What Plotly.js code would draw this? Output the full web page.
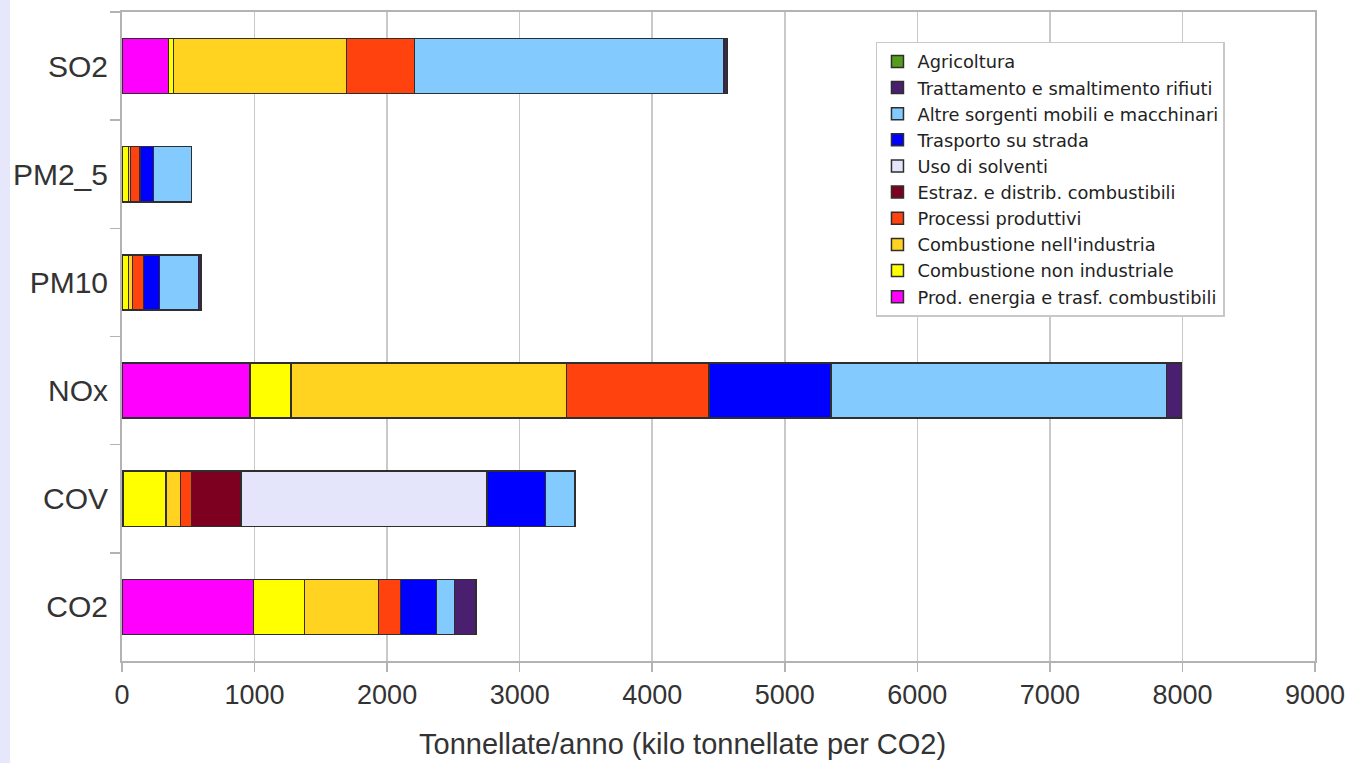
<!DOCTYPE html>
<html>
<head>
<meta charset="utf-8">
<script src="https://cdn.plot.ly/plotly-3.0.1.min.js"></script>
<style>
  html, body { margin: 0; padding: 0; background: #e6e7fb; }
  #chart { position: absolute; left: 10px; top: 0; width: 1342px; height: 763px; background: #ffffff; }
</style>
</head>
<body>
<div id="chart"></div>
<script>
// Categories (top to bottom)
const categories = ['SO2', 'PM2_5', 'PM10', 'NOx', 'COV', 'CO2'];

// Series values (tonnellate/anno; kilo tonnellate for CO2)
const prodEnergia   = [350, 0, 0, 965, 10, 992];
const combNonInd    = [37, 48, 48, 310, 322, 383];
const combInd       = [1305, 17, 33, 2080, 111, 561];
const processi      = [513, 71, 80, 1073, 83, 164];
const estraz        = [0, 0, 0, 0, 370, 0];
const solventi      = [0, 0, 0, 0, 1858, 0];
const trasporto     = [0, 101, 121, 919, 441, 272];
const altreSorgenti = [2338, 289, 295, 2531, 221, 136];
const trattamento   = [20, 0, 18, 113, 0, 163];
const agricoltura   = [0, 0, 0, 0, 0, 0];

const seriesNames = [
  'Prod. energia e trasf. combustibili',
  'Combustione non industriale',
  "Combustione nell'industria",
  'Processi produttivi',
  'Estraz. e distrib. combustibili',
  'Uso di solventi',
  'Trasporto su strada',
  'Altre sorgenti mobili e macchinari',
  'Trattamento e smaltimento rifiuti',
  'Agricoltura'
];
const seriesValues = [prodEnergia, combNonInd, combInd, processi, estraz, solventi, trasporto, altreSorgenti, trattamento, agricoltura];
const seriesColors = ['#ff00ff', '#ffff00', '#ffd320', '#ff420e', '#7e0021', '#e4e4fa', '#0000ff', '#83caff', '#4b1f6f', '#579d1c'];

const xTicks = [0, 1000, 2000, 3000, 4000, 5000, 6000, 7000, 8000, 9000];
const xTitle = 'Tonnellate/anno (kilo tonnellate per CO2)';

const FONT = '"Liberation Sans", Arial, sans-serif';

const traces = seriesNames.map((name, i) => ({
  type: 'bar',
  orientation: 'h',
  name: name,
  y: categories,
  x: seriesValues[i],
  marker: { color: seriesColors[i], line: { color: '#2e2e2e', width: 1.5 } },
  hoverinfo: 'x+name'
}));

const layout = {
  width: 1342,
  height: 763,
  margin: { l: 112, r: 37, t: 12, b: 102 },
  paper_bgcolor: '#ffffff',
  plot_bgcolor: '#ffffff',
  barmode: 'stack',
  bargap: 0.49,
  font: { family: FONT, color: '#333333' },
  xaxis: {
    range: [0, 9000],
    tickvals: xTicks,
    ticktext: xTicks.map(String),
    showgrid: true,
    gridcolor: '#c9c9c9',
    gridwidth: 1.5,
    zeroline: false,
    showline: true,
    linecolor: '#b3b3b3',
    linewidth: 2,
    mirror: true,
    ticks: 'outside',
    ticklen: 9,
    tickwidth: 1.5,
    tickcolor: '#b3b3b3',
    tickfont: { family: FONT, size: 27, color: '#333333' },
    automargin: false
  },
  yaxis: {
    type: 'category',
    autorange: 'reversed',
    showgrid: false,
    zeroline: false,
    showline: true,
    linecolor: '#b3b3b3',
    linewidth: 2,
    mirror: true,
    ticks: 'outside',
    tickson: 'boundaries',
    ticklen: 10,
    tickwidth: 1.5,
    tickcolor: '#b3b3b3',
    ticklabelstandoff: 6,
    tickfont: { family: FONT, size: 30, color: '#333333' },
    automargin: false
  },
  annotations: [{
    text: xTitle,
    xref: 'paper', yref: 'paper',
    x: 0.47, y: -0.128,
    xanchor: 'center', yanchor: 'middle',
    showarrow: false,
    font: { family: FONT, size: 29, color: '#333333' }
  }],
  legend: {
    x: 0.632,
    y: 0.954,
    xanchor: 'left',
    yanchor: 'top',
    traceorder: 'reversed',
    bgcolor: '#ffffff',
    bordercolor: '#c8c8c8',
    borderwidth: 1.5,
    font: { family: '"DejaVu Sans", "Liberation Sans", sans-serif', size: 17.8, color: '#222222' }
  },
  showlegend: true
};

Plotly.newPlot('chart', traces, layout, { displayModeBar: false, staticPlot: true });
</script>
</body>
</html>
